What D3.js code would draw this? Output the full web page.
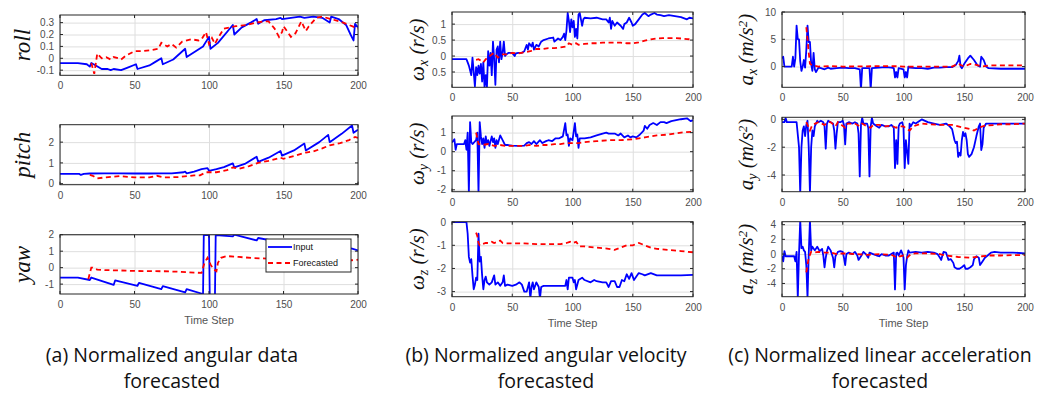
<!DOCTYPE html>
<html>
<head>
<meta charset="utf-8">
<script src="https://cdn.jsdelivr.net/npm/d3@7"></script>
<style>
  body { margin: 0; background: #fff; }
  svg { display: block; }
  .tick text { font-family: "Liberation Sans", Arial, sans-serif; }
</style>
</head>
<body>
<svg id="chart" width="1056" height="394"></svg>
<script>
// x ticks shared by every panel
const stepTicks = [0, 50, 100, 150, 200];

// (a) angular data: [step, value]
const rollInput = [[0,-0.04],[12,-0.04],[18,-0.05],[20,-0.07],[21,-0.04],[24,-0.06],[28,-0.09],[32,-0.09],[34,-0.1],[36,-0.09],[41,-0.1],[45,-0.08],[51,-0.05],[52,-0.09],[60,-0.06],[64,-0.03],[68,0.0],[69,-0.05],[76,-0.01],[84,0.08],[85,0.01],[96,0.1],[100,0.18],[101,0.08],[106,0.13],[116,0.28],[117,0.2],[122,0.26],[128,0.3],[132,0.33],[133,0.29],[137,0.32],[145,0.33],[148,0.34],[149,0.33],[155,0.34],[161,0.35],[164,0.34],[170,0.35],[176,0.34],[181,0.3],[182,0.35],[187,0.33],[192,0.28],[195,0.2],[197,0.15],[198,0.29],[200,0.26]];
const rollForecast = [[21,-0.04],[23,-0.13],[25,0.04],[28,0.0],[31,0.01],[34,-0.01],[36,0.01],[39,0.0],[41,-0.01],[44,0.02],[50,0.06],[55,0.06],[62,0.07],[66,0.08],[68,0.13],[72,0.1],[75,0.12],[78,0.09],[82,0.14],[88,0.16],[93,0.15],[95,0.16],[98,0.22],[100,0.12],[102,0.17],[104,0.12],[106,0.17],[110,0.25],[118,0.27],[125,0.28],[132,0.3],[137,0.31],[140,0.31],[144,0.25],[147,0.18],[149,0.22],[150,0.27],[155,0.18],[158,0.21],[162,0.31],[165,0.23],[167,0.27],[172,0.34],[176,0.35],[182,0.33],[190,0.3],[196,0.27],[200,0.25]];
const pitchInput = [[0,0.47],[13,0.47],[14,0.42],[16,0.47],[20,0.49],[30,0.5],[40,0.5],[50,0.49],[60,0.49],[68,0.5],[75,0.5],[83,0.55],[84,0.58],[85,0.5],[90,0.58],[95,0.7],[99,0.75],[100,0.62],[105,0.7],[110,0.8],[116,0.98],[117,0.78],[124,0.95],[132,1.3],[133,1.05],[140,1.25],[148,1.57],[149,1.35],[157,1.6],[164,1.93],[165,1.6],[174,2.0],[180,2.35],[181,2.0],[189,2.4],[196,2.8],[197,2.45],[200,2.6]];
const pitchForecast = [[20,0.42],[22,0.38],[25,0.25],[30,0.3],[40,0.36],[50,0.3],[60,0.3],[65,0.38],[70,0.3],[80,0.32],[90,0.4],[94,0.4],[98,0.55],[105,0.55],[112,0.65],[116,0.78],[120,0.72],[127,0.85],[133,1.0],[140,1.1],[148,1.25],[150,1.2],[158,1.35],[165,1.5],[170,1.55],[176,1.7],[181,1.85],[188,1.95],[194,2.1],[198,2.25],[200,2.2]];
const yawInput = [[0,-0.6],[12,-0.6],[20,-0.75],[21,-0.6],[36,-1.05],[37,-0.78],[52,-1.1],[53,-0.92],[68,-1.3],[69,-1.12],[84,-1.5],[85,-1.3],[96,-1.6],[96.5,1.98],[100,1.98],[100.5,-1.7],[104,-1.7],[104.5,1.98],[116,1.9],[117,2.0],[132,1.65],[133,1.8],[148,1.55],[149,1.65],[164,1.4],[165,1.5],[180,1.3],[181,1.38],[196,1.15],[200,1.05]];
const yawForecast = [[19,-0.7],[21,0.0],[22,0.0],[25,-0.12],[30,-0.15],[40,-0.17],[50,-0.2],[70,-0.22],[80,-0.25],[90,-0.3],[95,-0.32],[97,0.3],[99,0.6],[101,0.2],[103,-0.1],[105,-0.22],[106,0.3],[108,0.6],[112,0.7],[120,0.65],[130,0.58],[140,0.55],[160,0.5],[180,0.47],[196,0.45],[200,0.48]];

// (b) angular velocity
const wxInput = [[0,-0.1],[12,-0.1],[13,-0.2],[14,-0.3],[15,-0.45],[16,-0.6],[17,-0.05],[18,-0.5],[19,-0.95],[20,-0.35],[21,-0.6],[22,-0.3],[23,-0.55],[24,-0.25],[25,-0.8],[26,-0.2],[27,-0.98],[28,-0.6],[29,-0.98],[30,0.15],[31,-0.3],[32,0.1],[33,-0.6],[34,0.45],[35,-0.1],[36,-0.9],[37,0.2],[38,0.3],[39,-0.2],[40,0.45],[41,-0.1],[42,0.1],[43,0.45],[44,0.0],[45,0.05],[47,0.1],[50,0.1],[52,0.0],[53,0.08],[55,0.1],[58,0.1],[60,0.15],[62,0.35],[63,0.2],[64,0.4],[66,0.3],[67,0.42],[68,0.2],[70,0.35],[72,0.3],[74,0.45],[76,0.5],[80,0.55],[84,0.58],[85,0.45],[88,0.55],[90,0.5],[92,0.6],[93,0.7],[94,0.5],[95,0.8],[96,1.35],[97,1.1],[98,0.75],[99,1.15],[100,0.9],[101,1.1],[102,0.6],[103,0.85],[104,0.55],[105,1.3],[106,1.35],[107,1.15],[108,0.95],[109,1.15],[110,1.2],[115,1.18],[120,1.2],[125,1.15],[128,1.15],[130,1.05],[131,1.2],[132,0.85],[133,1.1],[135,0.95],[137,1.05],[140,0.95],[142,0.85],[143,1.0],[145,1.05],[147,1.2],[149,1.05],[150,0.95],[152,1.0],[155,1.15],[158,1.3],[160,1.35],[163,1.25],[165,1.3],[168,1.35],[170,1.3],[173,1.28],[176,1.25],[180,1.28],[185,1.25],[190,1.22],[195,1.15],[197,1.2],[200,1.18]];
const wxForecast = [[20,-0.12],[22,-0.1],[24,-0.15],[26,-0.2],[28,-0.1],[30,-0.05],[33,0.05],[35,0.1],[38,-0.05],[40,0.0],[42,0.05],[45,0.05],[50,0.1],[55,0.08],[60,0.12],[65,0.15],[70,0.22],[75,0.22],[80,0.25],[85,0.25],[90,0.27],[95,0.3],[97,0.4],[100,0.35],[103,0.4],[105,0.35],[110,0.38],[115,0.4],[120,0.4],[125,0.42],[130,0.42],[140,0.42],[145,0.4],[150,0.4],[155,0.43],[160,0.48],[165,0.52],[170,0.55],[175,0.56],[185,0.56],[190,0.55],[195,0.53],[200,0.52]];
const wyInput = [[0,0.48],[2,0.65],[3,0.1],[4,0.4],[10,0.4],[11,0.6],[12,0.1],[13,1.0],[14,-2.2],[15,1.55],[16,0.5],[17,0.4],[20,0.6],[21,1.0],[22,-2.2],[23,1.55],[24,0.8],[25,0.4],[26,0.7],[27,0.2],[28,0.8],[29,0.4],[30,0.6],[31,0.3],[33,0.8],[34,0.5],[35,0.7],[36,0.2],[37,0.6],[38,0.4],[40,0.85],[42,0.6],[44,0.35],[46,0.35],[50,0.32],[55,0.3],[60,0.32],[62,0.45],[64,0.5],[66,0.4],[68,0.55],[70,0.4],[73,0.6],[75,0.45],[78,0.55],[80,0.6],[83,0.55],[86,0.7],[89,0.7],[92,0.8],[94,1.5],[95,0.85],[96,0.9],[97,0.3],[98,0.7],[100,0.6],[102,1.5],[103,0.8],[104,0.9],[105,0.2],[106,0.7],[110,0.7],[115,0.75],[120,0.85],[125,0.95],[128,1.0],[130,0.95],[135,0.95],[138,0.85],[140,0.95],[143,0.75],[146,0.85],[148,0.75],[150,0.8],[153,0.75],[156,0.9],[159,1.1],[160,1.35],[162,1.2],[164,1.4],[167,1.5],[170,1.4],[173,1.55],[176,1.55],[178,1.5],[182,1.6],[186,1.65],[190,1.7],[195,1.75],[198,1.6],[200,1.65]];
const wyForecast = [[20,1.0],[21,0.7],[22,0.4],[25,0.35],[30,0.4],[35,0.3],[40,0.35],[45,0.3],[55,0.3],[60,0.3],[65,0.35],[70,0.3],[75,0.35],[80,0.35],[85,0.4],[90,0.4],[95,0.45],[105,0.45],[110,0.5],[120,0.55],[130,0.6],[140,0.6],[150,0.65],[160,0.75],[170,0.85],[180,0.9],[190,1.0],[200,1.05]];
const wzInput = [[0,0],[12,0],[13,-0.5],[14,-1.5],[15,-1.75],[16,-1.6],[17,-2.3],[18,-2.9],[19,-2.7],[20,-2.4],[21,-2.5],[22,-0.5],[23,-1.7],[24,-1.5],[25,-2.3],[26,-2.9],[27,-2.5],[28,-2.35],[29,-2.6],[31,-2.7],[33,-2.6],[35,-2.3],[36,-2.7],[38,-2.6],[40,-2.75],[42,-2.6],[43,-2.3],[44,-2.75],[46,-2.7],[50,-2.75],[53,-2.7],[56,-2.6],[58,-2.7],[60,-3.0],[62,-3.0],[64,-2.6],[65,-3.3],[66,-2.8],[67,-2.6],[68,-2.9],[70,-2.6],[72,-2.8],[73,-3.3],[74,-2.8],[76,-2.75],[85,-2.75],[94,-2.75],[95,-2.5],[96,-2.9],[97,-2.4],[100,-2.4],[101,-2.6],[102,-2.5],[103,-2.9],[105,-2.5],[108,-2.4],[110,-2.5],[115,-2.6],[118,-2.5],[120,-2.55],[125,-2.6],[128,-2.6],[130,-2.8],[132,-2.55],[135,-2.55],[137,-2.8],[139,-2.8],[141,-2.5],[143,-2.55],[145,-2.25],[147,-2.45],[149,-2.2],[151,-2.5],[153,-2.35],[155,-2.2],[158,-2.25],[160,-2.3],[165,-2.2],[170,-2.3],[180,-2.3],[190,-2.3],[200,-2.28]];
const wzForecast = [[20,-0.45],[21,-0.6],[22,-0.9],[23,-1.0],[25,-0.95],[28,-0.9],[30,-0.9],[33,-0.85],[35,-0.9],[38,-0.85],[40,-0.8],[42,-0.9],[45,-0.92],[60,-0.92],[70,-0.95],[90,-0.95],[95,-0.9],[98,-0.85],[100,-0.9],[103,-0.85],[106,-1.05],[110,-1.05],[120,-1.1],[130,-1.15],[135,-1.2],[140,-1.1],[145,-1.0],[150,-1.0],[155,-0.9],[160,-1.0],[165,-1.1],[170,-1.15],[180,-1.2],[190,-1.25],[200,-1.3]];

// (c) linear acceleration
const axInput = [[0,1.5],[1,1.8],[2,0.0],[8,0.0],[9,1.8],[10,0.0],[11,1.5],[12,7.5],[13,5],[14,5],[15,1.0],[16,-0.8],[17,0.0],[18,1.2],[19,-0.2],[20,3.0],[21,7.5],[22,4.5],[23,4.5],[24,0.5],[25,-0.8],[26,2.5],[27,-0.5],[28,-1.0],[30,-0.2],[32,-0.3],[35,-0.5],[38,-0.2],[40,-0.4],[45,-0.3],[50,-0.2],[55,-0.3],[60,-0.3],[64,-0.5],[65,-4.2],[66,-0.3],[72,-0.3],[73,-4.2],[74,-0.3],[80,-0.2],[85,-0.1],[90,-0.2],[92,-0.3],[93,-2.0],[94,-1.0],[95,-2.0],[96,-0.3],[100,-0.5],[101,-2.0],[102,-1.0],[103,-2.0],[104,0.0],[105,-0.2],[110,-0.3],[115,-0.3],[120,-0.4],[125,-0.2],[130,-0.2],[135,-0.1],[140,-0.1],[143,0.3],[145,1.0],[146,2.0],[147,0.0],[148,-0.3],[150,0.5],[153,1.5],[155,2.0],[158,1.2],[161,0.2],[163,0.0],[164,1.8],[166,1.2],[168,0.0],[170,-0.3],[180,-0.4],[200,-0.4]];
const axForecast = [[20,7.2],[21,5],[22,2.5],[23,0.5],[25,0.2],[30,0.0],[40,0.1],[50,0.0],[90,0.1],[100,0.0],[140,0.0],[145,0.5],[148,0.2],[150,0.0],[155,0.5],[160,0.3],[165,0.0],[170,0.2],[200,0.2]];
const ayInput = [[0,-0.2],[2,-0.2],[3,0.1],[4,-0.2],[12,-0.2],[14,-2.0],[15,-5.3],[16,-2.0],[17,-0.8],[18,-0.5],[19,-1.2],[20,-0.4],[21,-0.1],[22,-2],[23,-5.3],[24,-2],[25,-0.8],[26,-1.2],[27,-0.5],[28,-0.3],[29,-0.1],[30,-0.2],[32,-0.1],[34,-0.2],[35,-0.5],[36,-2.1],[37,-0.3],[38,-0.1],[40,-0.2],[42,-0.3],[43,-0.8],[44,-2.1],[45,-1.0],[46,-0.2],[48,-0.2],[50,-0.1],[51,-0.4],[52,-1.8],[53,-0.3],[55,-0.2],[58,-0.3],[60,-0.2],[62,-0.3],[63,-1.0],[64,-4.1],[65,-0.4],[66,0.1],[67,-0.3],[70,-0.3],[71,-0.6],[72,-4.1],[73,-0.5],[74,0.1],[75,-0.3],[78,-0.5],[80,-0.6],[82,-0.4],[85,-0.5],[88,-0.5],[90,-0.4],[92,-0.6],[93,-3.5],[94,-1.5],[95,-3.2],[96,-0.5],[97,-0.3],[99,-0.2],[100,-0.6],[101,-3.5],[102,-1.5],[104,-3.2],[105,-0.3],[106,-0.5],[108,-0.2],[110,-0.3],[115,0.0],[120,-0.2],[125,-0.3],[130,-0.4],[135,-0.3],[138,-0.5],[140,-0.7],[142,-1.5],[143,-1.7],[144,-1.6],[145,-2.7],[146,-2.4],[147,-2.6],[148,-1.5],[149,-0.9],[150,-1.2],[151,-1.0],[152,-1.5],[153,-2.5],[154,-2.7],[156,-2.5],[158,-2.0],[160,-1.2],[162,-0.5],[163,-0.3],[164,-2.2],[165,-1.8],[166,-0.6],[168,-0.3],[200,-0.3]];
const ayForecast = [[20,-0.2],[23,-0.8],[25,-0.4],[30,-0.2],[35,-0.4],[38,-0.2],[40,-0.2],[44,-0.5],[46,-0.2],[52,-0.6],[54,-0.3],[60,-0.3],[64,-0.5],[66,-0.3],[70,-0.5],[73,-0.6],[75,-0.4],[80,-0.4],[85,-0.5],[90,-0.45],[94,-0.6],[96,-0.5],[100,-0.5],[103,-0.7],[105,-0.8],[108,-0.5],[115,-0.3],[120,-0.35],[130,-0.4],[140,-0.4],[145,-0.5],[150,-0.6],[155,-0.7],[158,-0.8],[162,-0.6],[167,-0.45],[175,-0.4],[180,-0.35],[190,-0.35],[200,-0.3]];
const azInput = [[0,-0.3],[1,-1.0],[2,0.4],[3,-0.3],[10,-0.3],[11,-1.0],[12,0.3],[13,-6],[14,0.0],[15,4.6],[16,0.8],[17,1.0],[18,0.5],[19,0.3],[20,-1.5],[21,-6],[22,0.0],[23,4.6],[24,0.5],[25,1.0],[27,0.5],[29,1.0],[31,0.4],[33,0.7],[34,-0.2],[35,-1.8],[36,-0.5],[37,0.4],[38,1.0],[40,0.5],[42,-0.5],[43,-1.8],[44,-0.3],[46,0.3],[48,0.4],[50,0.3],[51,-0.5],[52,-1.5],[53,0.0],[55,0.2],[58,0.0],[60,0.3],[62,-0.2],[63,-0.8],[65,-0.3],[67,0.3],[69,0.0],[71,-0.5],[72,0.2],[75,0.0],[78,-0.2],[80,-0.3],[82,0.0],[85,-0.2],[88,-0.2],[90,0.0],[92,0.2],[93,-4.8],[94,0.1],[95,0.2],[96,-0.2],[98,0.5],[99,0.1],[100,-0.5],[101,-4.8],[102,-1.5],[103,-0.3],[104,0.5],[105,0.2],[110,0.3],[115,0.2],[120,0.3],[125,0.2],[128,0.0],[130,-0.5],[131,-0.8],[132,-0.2],[133,0.3],[135,0.2],[137,-0.8],[139,-0.7],[141,-1.2],[142,-1.8],[144,-2.0],[146,-2.0],[148,-1.8],[150,-1.5],[151,-2.0],[153,-2.0],[155,-1.8],[157,-1.5],[158,-0.7],[160,-0.3],[162,-0.5],[163,-1.5],[165,-1.0],[167,-0.5],[170,-0.1],[172,0.2],[175,0.3],[180,0.2],[190,0.2],[200,0.1]];
const azForecast = [[20,-2.5],[21,-1.5],[22,-0.5],[24,0.3],[26,0.2],[30,0.3],[35,0.2],[40,0.2],[45,0.0],[50,0.1],[60,0.0],[70,-0.1],[80,0.0],[90,-0.1],[95,-0.5],[97,-0.3],[100,-0.2],[103,-0.5],[106,0.0],[110,0.1],[120,0.1],[130,0.0],[135,-0.2],[140,-0.3],[145,-0.4],[155,-0.5],[160,-0.4],[165,-0.3],[170,-0.2],[180,-0.2],[190,-0.15],[200,-0.15]];

// y tick values and labels (as printed)
const rollTicks = [-0.1, 0, 0.1, 0.2, 0.3];
const pitchTicks = [0, 1, 2];
const yawTicks = [-1, 0, 1, 2];
const wxTicks = [-0.5, 0, 0.5, 1];
const wxTickLabels = ["0.5", "0", "0.5", "1"];
const wyTicks = [-2, -1, 0, 1];
const wzTicks = [-3, -2, -1, 0];
const axTicks = [0, 5, 10];
const ayTicks = [-4, -2, 0];
const azTicks = [-4, -2, 0, 2, 4];

const legendLabels = ["Input", "Forecasted"];
const captions = [
  ["(a) Normalized angular data", "forecasted"],
  ["(b) Normalized angular velocity", "forecasted"],
  ["(c) Normalized linear acceleration", "forecasted"]
];

const svg = d3.select("#chart");

const cols = [[60, 358], [452, 693], [782, 1025]];
const rowsA = [[15, 75.3], [124.7, 184.7], [234.7, 294]];
const rowsB = [[12, 87.3], [116, 191.7], [221.7, 296.7]];
const rowsC = [[12, 87.3], [117.3, 191.7], [221.7, 296.7]];

const panels = [
  { col: 0, row: rowsA[0], dom: [-0.143, 0.364], ticks: rollTicks, inp: rollInput, fc: rollForecast, label: [["roll", null]] },
  { col: 0, row: rowsA[1], dom: [-0.05, 2.84], ticks: pitchTicks, inp: pitchInput, fc: pitchForecast, label: [["pitch", null]] },
  { col: 0, row: rowsA[2], dom: [-1.6, 2.0], ticks: yawTicks, inp: yawInput, fc: yawForecast, label: [["yaw", null]], legend: true, xlabel: true },
  { col: 1, row: rowsB[0], dom: [-0.98, 1.38], ticks: wxTicks, tickLabels: wxTickLabels, inp: wxInput, fc: wxForecast, label: [["ω", null], ["x", "sub"], [" (r/s)", null]] },
  { col: 1, row: rowsB[1], dom: [-2.1, 1.87], ticks: wyTicks, inp: wyInput, fc: wyForecast, label: [["ω", null], ["y", "sub"], [" (r/s)", null]] },
  { col: 1, row: rowsB[2], dom: [-3.22, 0.02], ticks: wzTicks, inp: wzInput, fc: wzForecast, label: [["ω", null], ["z", "sub"], [" (r/s)", null]], xlabel: true },
  { col: 2, row: rowsC[0], dom: [-3.8, 10], ticks: axTicks, inp: axInput, fc: axForecast, label: [["a", null], ["x", "sub"], [" (m/s", null], ["2", "sup"], [")", null]] },
  { col: 2, row: rowsC[1], dom: [-5.2, 0.15], ticks: ayTicks, inp: ayInput, fc: ayForecast, label: [["a", null], ["y", "sub"], [" (m/s", null], ["2", "sup"], [")", null]] },
  { col: 2, row: rowsC[2], dom: [-5.8, 4.4], ticks: azTicks, inp: azInput, fc: azForecast, label: [["a", null], ["z", "sub"], [" (m/s", null], ["2", "sup"], [")", null]], xlabel: true }
];

const labelX = [22, 417, 746];

panels.forEach((p, i) => {
  const [x0, x1] = cols[p.col];
  const [y0, y1] = p.row;
  const x = d3.scaleLinear().domain([0, 200]).range([x0, x1]);
  const y = d3.scaleLinear().domain(p.dom).range([y1, y0]);
  const g = svg.append("g");

  g.append("clipPath").attr("id", "clip" + i)
    .append("rect").attr("x", x0).attr("y", y0).attr("width", x1 - x0).attr("height", y1 - y0);

  g.append("rect").attr("x", x0).attr("y", y0).attr("width", x1 - x0).attr("height", y1 - y0)
    .attr("fill", "#fff");

  // grid
  g.append("g").attr("transform", `translate(0,${y1})`)
    .call(d3.axisBottom(x).tickValues(stepTicks).tickSize(-(y1 - y0)).tickFormat(""))
    .call(a => a.select(".domain").remove())
    .selectAll("line").attr("stroke", "#dedede").attr("stroke-width", 1);
  g.append("g").attr("transform", `translate(${x0},0)`)
    .call(d3.axisLeft(y).tickValues(p.ticks).tickSize(-(x1 - x0)).tickFormat(""))
    .call(a => a.select(".domain").remove())
    .selectAll("line").attr("stroke", "#dedede").attr("stroke-width", 1);

  // tick labels
  const xa = g.append("g").attr("transform", `translate(0,${y1})`)
    .call(d3.axisBottom(x).tickValues(stepTicks).tickSize(0).tickPadding(7));
  xa.select(".domain").remove();
  xa.selectAll("text").attr("font-size", 10).attr("fill", "#4d4d4d");

  const ya = g.append("g").attr("transform", `translate(${x0},0)`)
    .call(d3.axisLeft(y).tickValues(p.ticks).tickSize(0).tickPadding(6)
      .tickFormat((d, k) => p.tickLabels ? p.tickLabels[k] : d3.format("")(d).replace("−", "-")));
  ya.select(".domain").remove();
  ya.selectAll("text").attr("font-size", 10).attr("fill", "#4d4d4d");

  // lines
  const line = d3.line().x(d => x(d[0])).y(d => y(d[1]));
  const plot = g.append("g").attr("clip-path", `url(#clip${i})`);
  plot.append("path").datum(p.inp).attr("d", line)
    .attr("fill", "none").attr("stroke", "#0000ff").attr("stroke-width", 1.8).attr("stroke-linejoin", "round");
  plot.append("path").datum(p.fc).attr("d", line)
    .attr("fill", "none").attr("stroke", "#ff0000").attr("stroke-width", 1.8).attr("stroke-dasharray", "5,3.5");

  // inner tick marks
  const tk = g.append("g").attr("stroke", "#262626").attr("stroke-width", 1);
  stepTicks.forEach(t => {
    tk.append("line").attr("x1", x(t)).attr("x2", x(t)).attr("y1", y1).attr("y2", y1 - 3);
    tk.append("line").attr("x1", x(t)).attr("x2", x(t)).attr("y1", y0).attr("y2", y0 + 3);
  });
  p.ticks.forEach(t => {
    tk.append("line").attr("x1", x0).attr("x2", x0 + 3).attr("y1", y(t)).attr("y2", y(t));
    tk.append("line").attr("x1", x1).attr("x2", x1 - 3).attr("y1", y(t)).attr("y2", y(t));
  });

  // frame
  g.append("rect").attr("x", x0).attr("y", y0).attr("width", x1 - x0).attr("height", y1 - y0)
    .attr("fill", "none").attr("stroke", "#262626").attr("stroke-width", 1);

  // y label
  const lt = g.append("text")
    .attr("transform", `translate(${labelX[p.col]},${(y0 + y1) / 2}) rotate(-90)`)
    .attr("text-anchor", "middle").attr("dy", "0.35em")
    .attr("font-family", "'Liberation Serif', 'DejaVu Serif', serif")
    .attr("font-style", "italic").attr("font-size", p.col === 0 ? 23 : 21).attr("fill", "#111");
  p.label.forEach(([s, kind]) => {
    const ts = lt.append("tspan").text(s);
    if (kind === "sub") ts.attr("font-size", 14).attr("baseline-shift", "-30%");
    if (kind === "sup") ts.attr("font-size", 13).attr("baseline-shift", "45%");
  });

  if (p.xlabel) {
    g.append("text").attr("x", (x0 + x1) / 2).attr("y", p.col === 0 ? 324 : 327)
      .attr("text-anchor", "middle").attr("font-family", "'Liberation Sans', Arial, sans-serif")
      .attr("font-size", 11).attr("fill", "#555").text("Time Step");
  }

  if (p.legend) {
    const lg = g.append("g");
    lg.append("rect").attr("x", 266).attr("y", 239).attr("width", 85).attr("height", 33)
      .attr("fill", "#fff").attr("stroke", "#262626").attr("stroke-width", 1);
    [["#0000ff", null], ["#ff0000", "5,3.5"]].forEach(([c, dash], k) => {
      const ly = 247 + k * 16;
      lg.append("line").attr("x1", 268).attr("x2", 292).attr("y1", ly).attr("y2", ly)
        .attr("stroke", c).attr("stroke-width", 1.8).attr("stroke-dasharray", dash);
      lg.append("text").attr("x", 293).attr("y", ly).attr("dy", "0.35em")
        .attr("font-family", "'Liberation Sans', Arial, sans-serif").attr("font-size", 9)
        .attr("fill", "#111").text(legendLabels[k]);
    });
  }
});

// captions
const capX = [172, 546, 880];
captions.forEach((lines, k) => {
  lines.forEach((s, j) => {
    svg.append("text").attr("x", capX[k]).attr("y", 362 + j * 26)
      .attr("text-anchor", "middle").attr("font-family", "'Open Sans', 'Noto Sans', sans-serif")
      .attr("font-size", 19.5).attr("fill", "#111").text(s);
  });
});
</script>
</body>
</html>
